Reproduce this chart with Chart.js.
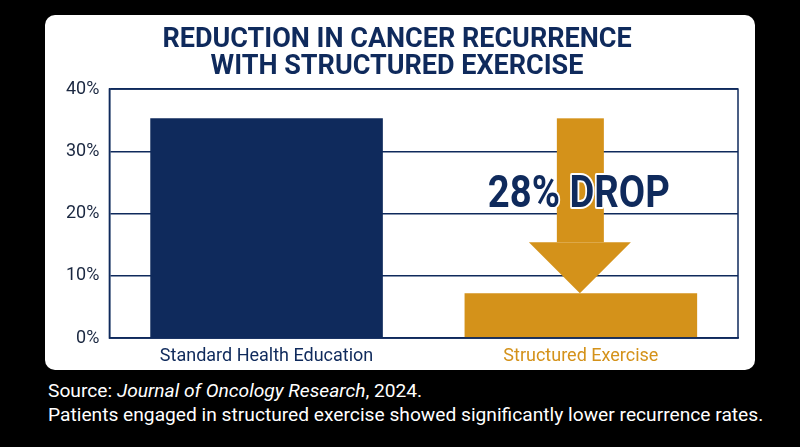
<!DOCTYPE html>
<html><head><meta charset="utf-8">
<script src="https://cdn.jsdelivr.net/npm/chart.js"></script>
<style>
html,body{margin:0;background:#000;width:800px;height:447px;overflow:hidden;font-family:Roboto,"Noto Sans",sans-serif}
#card{position:absolute;left:45px;top:15px;width:710px;height:355px;background:#fff;border-radius:10px}
#wrap{position:absolute;left:0;top:0;width:710px;height:355px}
.f{position:absolute;left:48px;color:#fff;font-size:19.2px}
</style></head><body>
<div id="card"><div id="wrap"><canvas id="c"></canvas></div></div>
<div class="f" style="top:379px">Source: <i>Journal of Oncology Research</i>, 2024.</div>
<div class="f" style="top:403px">Patients engaged in structured exercise showed significantly lower recurrence rates.</div>
<script>
const categories=["Standard Health Education","Structured Exercise"];
const recurrence=[35.3,7.2];
const tickValues=[0,10,20,30,40];
const navy="#0f2a5c", gold="#d4921a";
const deco={id:"deco",afterDatasetsDraw(ch){
  const {ctx,chartArea:a,scales:{x,y}}=ch;
  ctx.save();
  ctx.strokeStyle=navy;ctx.lineWidth=1.5;ctx.strokeRect(a.left,a.top,a.right-a.left,a.bottom-a.top);
  const cx=x.getPixelForValue(1), top=y.getPixelForValue(recurrence[0]), tip=y.getPixelForValue(recurrence[1]);
  const headY=tip-51;
  ctx.fillStyle=gold;
  ctx.fillRect(cx-24,top,47,headY-top);
  ctx.beginPath();ctx.moveTo(cx-52,headY);ctx.lineTo(cx+50,headY);ctx.lineTo(cx-1,tip);ctx.closePath();ctx.fill();
  const txt="28% DROP";
  ctx.font="bold 44px Roboto";
  const w=ctx.measureText(txt).width;
  ctx.translate(cx-2,y.getPixelForValue(22.8));
  ctx.scale(182/w,1);
  ctx.textAlign="center";ctx.textBaseline="middle";
  ctx.lineJoin="round";ctx.strokeStyle="#fff";ctx.lineWidth=4;ctx.strokeText(txt,0,0);
  ctx.fillStyle=navy;ctx.fillText(txt,0,0);
  ctx.restore();
}};
new Chart(document.getElementById("c"),{type:"bar",
 data:{labels:categories,datasets:[{data:recurrence,backgroundColor:[navy,gold],barPercentage:0.74,categoryPercentage:1}]},
 options:{responsive:true,maintainAspectRatio:false,animation:false,
  layout:{padding:{left:11,right:17,top:0,bottom:4}},
  plugins:{legend:{display:false},tooltip:{enabled:false},
   title:{display:true,text:["REDUCTION IN CANCER RECURRENCE","WITH STRUCTURED EXERCISE"],color:navy,font:{family:"Roboto",size:27,weight:"bold",lineHeight:1.02},padding:{top:11,bottom:8}}},
  scales:{
   x:{grid:{display:false},border:{color:navy,width:1.5},ticks:{color:(c)=>c.index===1?gold:navy,font:{family:"Roboto",size:18,lineHeight:1},padding:1}},
   y:{min:0,max:40,afterBuildTicks(s){s.ticks=tickValues.map(v=>({value:v}));},
      grid:{color:navy,lineWidth:1.5,drawTicks:false},border:{color:navy,width:1.5},
      ticks:{color:"#1a2740",font:{family:"Roboto",size:18},padding:10,callback:v=>v+"%"}}
  }},plugins:[deco]});
</script></body></html>
